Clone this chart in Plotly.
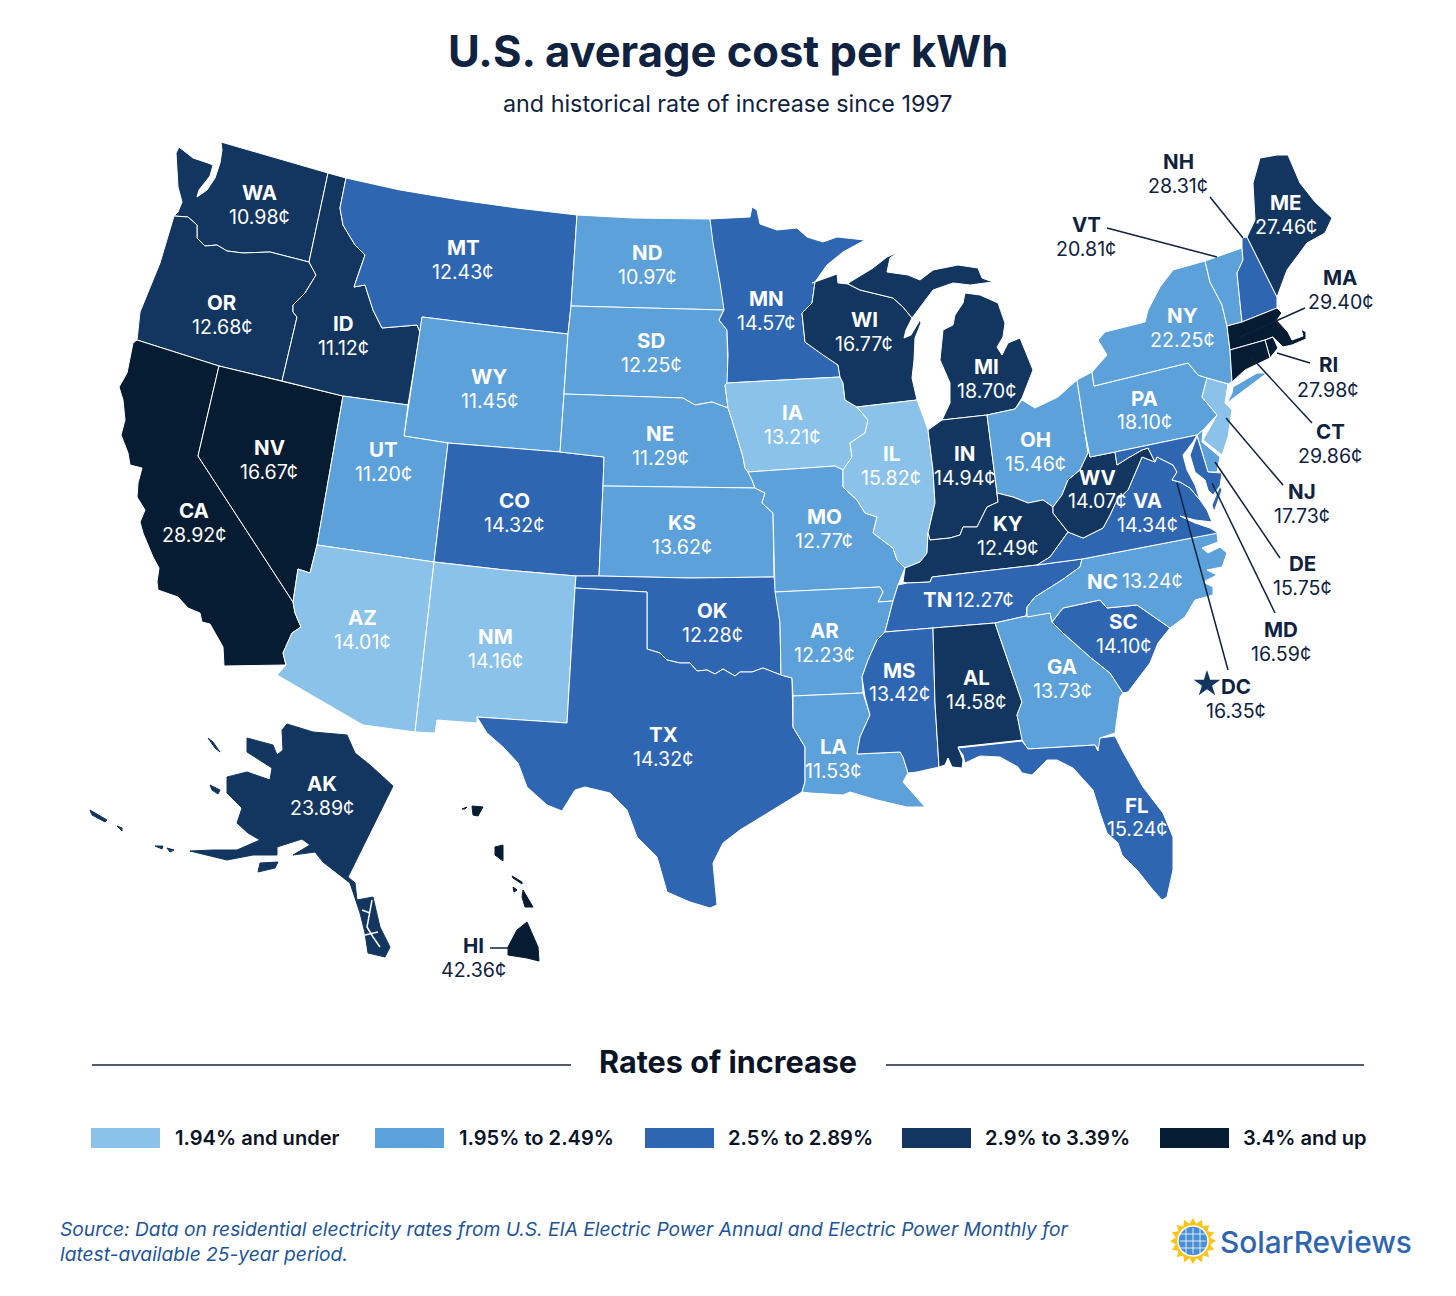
import math

import plotly.graph_objects as go

# residential price per kWh (cents) and rate-of-increase bin for each state
states = ["WA", "OR", "CA", "NV", "ID", "MT", "WY", "UT", "AZ", "CO", "NM", "ND", "SD", "NE", "KS", "OK", "TX",
          "MN", "IA", "MO", "AR", "LA", "WI", "IL", "MI", "IN", "OH", "KY", "TN", "MS", "AL", "GA", "FL", "SC",
          "NC", "VA", "WV", "PA", "NY", "VT", "NH", "ME", "MA", "RI", "CT", "NJ", "DE", "MD", "AK", "HI"]
prices = ["10.98", "12.68", "28.92", "16.67", "11.12", "12.43", "11.45", "11.20", "14.01", "14.32", "14.16", "10.97",
          "12.25", "11.29", "13.62", "12.28", "14.32", "14.57", "13.21", "12.77", "12.23", "11.53", "16.77", "15.82",
          "18.70", "14.94", "15.46", "12.49", "12.27", "13.42", "14.58", "13.73", "15.24", "14.10", "13.24", "14.34",
          "14.07", "18.10", "22.25", "20.81", "28.31", "27.46", "29.40", "27.98", "29.86", "17.73", "15.75", "16.59",
          "23.89", "42.36"]
rate_bins = [3, 3, 4, 4, 3, 2, 1, 1, 0, 2, 0, 1, 1, 1, 1, 2, 2,
             2, 0, 1, 1, 1, 3, 0, 3, 3, 1, 3, 2, 2, 3, 1, 2, 2,
             1, 2, 3, 1, 1, 1, 2, 3, 4, 4, 4, 0, 1, 2, 3, 4]
dc_price = "16.35"

bin_labels = ["1.94% and under", "1.95% to 2.49%", "2.5% to 2.89%", "2.9% to 3.39%", "3.4% and up"]
bin_colors = ["#8bc2ea", "#5da1da", "#2e66b1", "#12365f", "#061c33"]

NAVY = "#0f2240"

# no geo basemap without network (topojson comes from the CDN), so outlines are
# traced by hand off the picture, in page pixels
outlines = {
    "WA": [[(221, 142), (270, 156), (328, 173), (309, 262), (270, 252), (243, 253), (227, 251), (217, 245), (205, 246),
            (197, 238), (197, 225), (188, 217), (174, 216), (178, 212), (182, 202), (178, 187), (176, 153), (179, 147),
            (193, 158), (208, 163), (213, 165), (210, 176), (199, 190), (197, 197), (207, 190), (215, 178), (220, 163),
            (222, 150)]],
    "OR": [[(174, 216), (188, 217), (197, 225), (197, 238), (205, 246), (217, 245), (227, 251), (243, 253), (270, 252),
            (309, 262), (316, 275), (305, 293), (293, 305), (293, 312), (297, 317), (282, 381), (219, 366), (137, 340),
            (140, 312), (150, 287), (160, 263)]],
    "CA": [[(137, 340), (219, 366), (198, 456), (293, 602), (295, 613), (301, 627), (292, 633), (283, 653), (286, 665),
            (224, 666), (223, 647), (210, 624), (202, 622), (200, 613), (188, 608), (178, 597), (158, 590), (157, 582),
            (159, 568), (153, 557), (143, 533), (140, 522), (145, 510), (137, 497), (138, 483), (142, 468), (130, 465),
            (128, 453), (121, 435), (125, 420), (123, 400), (119, 387), (127, 373), (133, 343)]],
    "NV": [[(219, 366), (282, 381), (343, 396), (317, 545), (310, 573), (298, 569), (295, 587), (293, 602), (198, 456)]],
    "ID": [[(328, 173), (346, 178), (340, 208), (343, 225), (355, 245), (365, 255), (358, 275), (354, 287), (365, 285),
            (373, 310), (382, 328), (393, 327), (417, 325), (420, 332), (408, 405), (343, 396), (282, 381), (297, 317),
            (293, 312), (293, 305), (305, 293), (316, 275), (309, 262)]],
    "MT": [[(346, 178), (400, 190), (460, 200), (517, 208), (577, 215), (571, 306), (568, 334), (495, 326), (422, 317),
            (420, 332), (417, 325), (393, 327), (382, 328), (373, 310), (365, 285), (354, 287), (358, 275), (365, 255),
            (355, 245), (343, 225), (340, 208)]],
    "WY": [[(422, 317), (495, 326), (568, 334), (564, 394), (560, 452), (448, 443), (404, 436)]],
    "UT": [[(343, 396), (408, 405), (404, 436), (448, 443), (434, 562), (317, 545)]],
    "AZ": [[(317, 545), (434, 562), (415, 732), (363, 725), (277, 675), (286, 665), (283, 653), (292, 633), (301, 627),
            (295, 613), (293, 602), (295, 587), (298, 569), (310, 573)]],
    "CO": [[(448, 443), (560, 452), (604, 457), (603, 486), (599, 576), (576, 576), (505, 570), (434, 562)]],
    "NM": [[(434, 562), (505, 570), (576, 576), (575, 588), (567, 723), (477, 717), (477, 723), (437, 720), (435, 733),
            (415, 732)]],
    "ND": [[(577, 215), (633, 218), (710, 219), (712, 230), (717, 260), (723, 297), (724, 310), (645, 308), (571, 306)]],
    "SD": [[(571, 306), (645, 308), (724, 310), (719, 320), (727, 330), (728, 383), (725, 385), (728, 408), (712, 402),
            (695, 405), (683, 398), (620, 396), (564, 394), (568, 334)]],
    "NE": [[(564, 394), (620, 396), (683, 398), (695, 405), (712, 402), (728, 408), (732, 420), (743, 457), (745, 468),
            (748, 472), (752, 480), (755, 488), (680, 487), (603, 486), (604, 457), (560, 452)]],
    "KS": [[(603, 486), (680, 487), (755, 488), (765, 493), (762, 503), (773, 513), (774, 577), (690, 578), (599, 576)]],
    "OK": [[(576, 576), (599, 576), (690, 578), (774, 577), (780, 623), (781, 675), (773, 672), (763, 668), (752, 672),
            (740, 672), (735, 676), (723, 669), (715, 674), (707, 670), (697, 671), (690, 663), (680, 663), (667, 660),
            (660, 653), (647, 649), (647, 592), (575, 588)]],
    "TX": [[(575, 588), (647, 592), (647, 649), (660, 653), (667, 660), (680, 663), (690, 663), (697, 671), (707, 670),
            (715, 674), (723, 669), (735, 676), (740, 672), (752, 672), (763, 668), (773, 672), (781, 675), (792, 678),
            (793, 727), (805, 747), (805, 782), (802, 792), (773, 810), (740, 830), (723, 843), (713, 863), (717, 905),
            (710, 908), (690, 902), (667, 892), (657, 857), (637, 837), (627, 810), (610, 793), (585, 787), (575, 790),
            (562, 811), (547, 805), (527, 787), (518, 763), (503, 747), (487, 733), (477, 717), (567, 723)]],
    "MN": [[(710, 219), (750, 217), (752, 207), (757, 210), (760, 224), (777, 230), (797, 228), (807, 237), (823, 242),
            (837, 237), (865, 240), (843, 252), (827, 265), (815, 282), (812, 303), (802, 313), (805, 342), (823, 355),
            (838, 365), (840, 377), (727, 383), (728, 355), (727, 330), (719, 320), (724, 310), (720, 283), (713, 243)]],
    "IA": [[(727, 383), (840, 377), (843, 383), (845, 400), (857, 407), (868, 420), (865, 433), (850, 443), (852, 457),
            (843, 470), (835, 466), (748, 472), (745, 468), (743, 457), (732, 420), (728, 408), (725, 385)]],
    "MO": [[(752, 480), (748, 472), (835, 466), (843, 470), (843, 487), (857, 500), (865, 513), (877, 517), (873, 533),
            (893, 548), (897, 560), (905, 568), (898, 585), (893, 601), (878, 602), (883, 592), (880, 587), (775, 592),
            (773, 513), (762, 503), (765, 493), (755, 488)]],
    "AR": [[(775, 592), (880, 587), (883, 592), (878, 602), (893, 601), (885, 632), (877, 640), (868, 660), (862, 677),
            (863, 693), (793, 696), (792, 678), (781, 675), (780, 623)]],
    "LA": [[(793, 696), (863, 693), (870, 715), (860, 737), (857, 754), (900, 752), (903, 757), (908, 773), (903, 782),
            (925, 807), (907, 807), (877, 800), (850, 792), (843, 795), (810, 793), (802, 792), (805, 782), (805, 747),
            (793, 727)]],
    "WI": [[(812, 283), (837, 274), (838, 283), (848, 284), (860, 290), (893, 298), (903, 307), (912, 318), (906, 330),
            (904, 338), (911, 335), (920, 320), (921, 323), (915, 338), (914, 360), (912, 378), (917, 400), (857, 407),
            (845, 400), (843, 383), (840, 377), (838, 365), (823, 355), (805, 342), (802, 313), (812, 303), (815, 282)]],
    "IL": [[(857, 407), (917, 400), (922, 413), (928, 430), (933, 470), (935, 503), (928, 533), (927, 553), (920, 562),
            (905, 568), (897, 560), (893, 548), (873, 533), (877, 517), (865, 513), (857, 500), (843, 487), (843, 470),
            (852, 457), (850, 443), (865, 433), (868, 420)]],
    "MI": [[(848, 284), (860, 290), (893, 298), (903, 307), (912, 318), (920, 307), (927, 298), (933, 290), (953, 283),
            (970, 285), (993, 282), (982, 278), (978, 268), (958, 265), (933, 270), (920, 280), (908, 275), (887, 272),
            (890, 258), (898, 252), (887, 257), (873, 268), (850, 282)],
           [(965, 293), (980, 295), (998, 303), (1005, 323), (1003, 337), (997, 347), (1002, 355), (1008, 343), (1020, 338),
            (1028, 357), (1033, 370), (1022, 398), (1015, 409), (987, 415), (942, 420), (950, 403), (950, 383), (940, 360),
            (943, 330), (953, 325), (955, 315), (963, 303)]],
    "IN": [[(942, 420), (987, 415), (995, 477), (997, 493), (998, 502), (987, 507), (977, 527), (963, 527), (960, 535),
            (950, 538), (930, 540), (928, 533), (935, 503), (933, 470), (928, 430)]],
    "OH": [[(987, 415), (1015, 409), (1022, 400), (1035, 408), (1058, 397), (1077, 380), (1085, 432), (1088, 453),
            (1080, 470), (1068, 480), (1062, 495), (1053, 507), (1043, 500), (1028, 503), (1013, 497), (997, 493),
            (995, 477)]],
    "KY": [[(905, 568), (920, 562), (927, 553), (928, 533), (930, 540), (950, 538), (960, 535), (963, 527), (977, 527),
            (987, 507), (998, 502), (997, 493), (1013, 497), (1028, 503), (1043, 500), (1053, 507), (1053, 513), (1068, 532),
            (1050, 557), (1037, 565), (932, 577), (930, 582), (907, 583), (903, 582)]],
    "TN": [[(898, 585), (907, 583), (930, 582), (932, 577), (1037, 565), (1082, 559), (1080, 567), (1062, 580), (1035, 597),
            (1027, 607), (1026, 616), (995, 623), (933, 628), (885, 632), (893, 601)]],
    "MS": [[(885, 632), (933, 628), (935, 703), (939, 767), (917, 772), (908, 773), (903, 757), (900, 752), (857, 754),
            (860, 737), (870, 715), (865, 697), (862, 677), (868, 660), (877, 640)]],
    "AL": [[(933, 628), (995, 623), (1022, 702), (1017, 715), (1023, 740), (958, 747), (963, 760), (962, 768), (952, 767),
            (948, 758), (945, 765), (939, 767), (935, 703)]],
    "GA": [[(995, 623), (1026, 616), (1050, 613), (1052, 622), (1063, 633), (1090, 657), (1110, 673), (1123, 693), (1120, 697),
            (1115, 733), (1100, 738), (1100, 751), (1095, 745), (1028, 749), (1022, 740), (1017, 715), (1022, 702)]],
    "FL": [[(958, 748), (1022, 741), (1028, 749), (1095, 745), (1098, 751), (1100, 738), (1115, 736), (1123, 752), (1143, 787),
            (1163, 813), (1173, 837), (1173, 870), (1167, 897), (1162, 900), (1153, 890), (1137, 870), (1122, 855), (1118, 843),
            (1107, 833), (1100, 813), (1093, 790), (1073, 768), (1057, 760), (1047, 760), (1032, 775), (1022, 773), (1018, 767),
            (1000, 757), (980, 756), (965, 763), (963, 755)]],
    "SC": [[(1052, 622), (1063, 608), (1100, 600), (1107, 608), (1137, 605), (1170, 628), (1158, 643), (1150, 663), (1128, 692),
            (1123, 693), (1110, 673), (1090, 657), (1063, 633)]],
    "NC": [[(1027, 617), (1027, 607), (1035, 597), (1062, 580), (1080, 567), (1082, 559), (1150, 546), (1217, 533), (1218, 542),
            (1202, 548), (1208, 553), (1220, 547), (1227, 553), (1222, 567), (1207, 570), (1217, 575), (1203, 582), (1213, 587),
            (1213, 595), (1195, 600), (1185, 617), (1170, 628), (1137, 605), (1107, 608), (1100, 600), (1063, 608), (1052, 622),
            (1050, 613)]],
    "VA": [[(1037, 565), (1050, 557), (1068, 532), (1083, 538), (1103, 528), (1110, 515), (1117, 500), (1128, 490), (1142, 457),
            (1155, 462), (1157, 457), (1173, 465), (1177, 472), (1172, 480), (1180, 482), (1190, 488), (1200, 500), (1207, 510),
            (1212, 522), (1195, 520), (1180, 516), (1195, 523), (1210, 528), (1218, 533), (1150, 546), (1082, 559)],
           [(1220, 486), (1222, 490), (1214, 512), (1212, 505)]],
    "WV": [[(1085, 432), (1090, 457), (1115, 452), (1117, 465), (1128, 458), (1142, 450), (1148, 448), (1155, 462), (1142, 457),
            (1128, 490), (1117, 500), (1110, 515), (1103, 528), (1083, 538), (1068, 532), (1053, 513), (1053, 507), (1062, 495),
            (1068, 480), (1080, 470), (1088, 453)]],
    "PA": [[(1077, 380), (1092, 372), (1094, 386), (1188, 363), (1198, 375), (1207, 378), (1202, 397), (1217, 415), (1203, 430),
            (1197, 435), (1115, 452), (1090, 457), (1085, 432)]],
    "NY": [[(1105, 332), (1145, 322), (1148, 310), (1160, 287), (1173, 270), (1205, 261), (1210, 282), (1222, 305), (1227, 326),
            (1230, 350), (1232, 382), (1228, 384), (1207, 378), (1198, 375), (1188, 363), (1094, 386), (1092, 372), (1107, 355),
            (1098, 340)],
           [(1232, 393), (1227, 403), (1267, 373), (1257, 373), (1233, 387)]],
    "VT": [[(1205, 261), (1242, 248), (1243, 260), (1237, 273), (1242, 322), (1227, 326), (1222, 305), (1210, 282)]],
    "NH": [[(1242, 238), (1247, 237), (1277, 297), (1277, 308), (1242, 322), (1237, 273), (1243, 260), (1242, 248)]],
    "ME": [[(1247, 237), (1255, 220), (1253, 183), (1260, 158), (1277, 155), (1288, 155), (1300, 183), (1315, 202), (1332, 218),
            (1325, 233), (1307, 243), (1287, 270), (1277, 297)]],
    "MA": [[(1227, 326), (1242, 322), (1277, 308), (1282, 313), (1277, 320), (1288, 332), (1292, 340), (1303, 336), (1301, 329),
            (1306, 332), (1306, 339), (1292, 345), (1283, 347), (1273, 337), (1265, 340), (1230, 350)]],
    "RI": [[(1265, 340), (1273, 337), (1278, 348), (1270, 358)]],
    "CT": [[(1230, 350), (1265, 340), (1270, 358), (1245, 370), (1232, 382)]],
    "NJ": [[(1207, 378), (1228, 384), (1225, 403), (1232, 410), (1228, 437), (1222, 455), (1203, 440), (1217, 415), (1202, 397)]],
    "DE": [[(1197, 435), (1203, 430), (1202, 442), (1220, 457), (1217, 472), (1208, 472)]],
    "MD": [[(1115, 452), (1197, 435), (1193, 442), (1183, 455), (1187, 470), (1195, 485), (1200, 500), (1190, 488), (1180, 482),
            (1172, 480), (1177, 472), (1173, 465), (1157, 457), (1155, 462), (1148, 448), (1142, 450), (1128, 458), (1117, 465)],
           [(1197, 436), (1208, 472), (1222, 473), (1220, 486), (1213, 495), (1208, 490), (1205, 480), (1195, 472), (1190, 455)]],
    "AK": [[(287, 724), (313, 732), (347, 735), (355, 753), (370, 765), (393, 786), (348, 877), (355, 883), (357, 900), (373, 897),
            (380, 927), (390, 947), (385, 957), (368, 953), (365, 933), (360, 913), (350, 883), (323, 862), (315, 852), (293, 855),
            (310, 845), (302, 839), (277, 847), (277, 855), (253, 855), (227, 860), (190, 851), (213, 850), (237, 850), (260, 840),
            (248, 833), (237, 823), (242, 808), (227, 793), (227, 777), (247, 772), (270, 780), (272, 768), (247, 752), (247, 738),
            (273, 745), (277, 755), (283, 750), (282, 730)],
           [(208, 738), (213, 742), (220, 752), (215, 748)], [(210, 785), (220, 790), (218, 794), (212, 790)],
           [(260, 863), (278, 862), (275, 868), (258, 872)], [(90, 810), (107, 820), (105, 822), (92, 815)],
           [(117, 826), (122, 828), (122, 831)], [(155, 846), (163, 846), (162, 849)], [(167, 848), (174, 850), (170, 852)]],
    "HI": [[(527, 922), (538, 947), (539, 961), (527, 958), (508, 955), (508, 947), (517, 930)],
           [(523, 890), (533, 907), (525, 907), (522, 897)], [(512, 876), (522, 882), (522, 884), (513, 878)],
           [(513, 887), (517, 890), (514, 892)], [(495, 847), (503, 845), (503, 861), (495, 855)],
           [(472, 806), (483, 807), (478, 816), (473, 815)], [(462, 809), (467, 807), (465, 809)]],
}
ak_channels = [[(372, 900), (367, 927), (373, 937), (380, 947)], [(362, 910), (370, 913)], [(365, 935), (378, 932)]]
# islands only, no neighbours, so no white edge around them
no_border = ["AK", "HI"]

# code x, code y, price x, price y
label_pos = {
    "WA": (259, 192, 259, 217), "OR": (222, 302, 222, 327), "CA": (194, 510, 194, 535), "NV": (269, 447, 269, 472),
    "ID": (343, 323, 343, 348), "MT": (463, 247, 463, 272), "WY": (489, 376, 489, 401), "UT": (383, 449, 383, 474),
    "AZ": (362, 617, 362, 642), "CO": (514, 500, 514, 525), "NM": (495, 636, 495, 661), "ND": (647, 252, 647, 277),
    "SD": (651, 340, 651, 365), "NE": (660, 433, 660, 458), "KS": (682, 522, 682, 547), "OK": (712, 610, 712, 635),
    "TX": (663, 734, 663, 759), "MN": (766, 298, 766, 323), "IA": (792, 412, 792, 437), "MO": (824, 516, 824, 541),
    "AR": (824, 630, 824, 655), "LA": (833, 746, 833, 771), "WI": (864, 319, 864, 344), "IL": (891, 453, 891, 478),
    "MI": (986, 366, 986, 391), "IN": (964, 453, 964, 478), "OH": (1035, 439, 1035, 464), "KY": (1008, 523, 1008, 548),
    "TN": (937, 599, 984, 600), "MS": (899, 670, 899, 694), "AL": (976, 677, 976, 702), "GA": (1062, 666, 1062, 691),
    "FL": (1137, 805, 1137, 829), "SC": (1123, 621, 1123, 646), "NC": (1102, 581, 1152, 581), "VA": (1147, 500, 1147, 525),
    "WV": (1097, 477, 1097, 501), "PA": (1144, 398, 1144, 422), "NY": (1182, 315, 1182, 340), "ME": (1286, 202, 1286, 227),
    "AK": (322, 783, 322, 808), "NH": (1178, 161, 1178, 186), "VT": (1086, 224, 1086, 249), "MA": (1340, 277, 1340, 302),
    "RI": (1328, 364, 1328, 390), "CT": (1330, 431, 1330, 456), "NJ": (1302, 491, 1302, 516), "DE": (1302, 563, 1302, 588),
    "MD": (1281, 629, 1281, 654), "HI": (473, 945, 473, 970),
}
outside_labels = ["NH", "VT", "MA", "RI", "CT", "NJ", "DE", "MD", "HI"]

leaders = [[(1107, 228), (1217, 257)], [(1210, 197), (1243, 238)], [(1305, 308), (1240, 337)], [(1310, 363), (1277, 353)],
           [(1312, 423), (1252, 358)], [(1283, 485), (1226, 418)], [(1280, 558), (1215, 462)], [(1275, 613), (1212, 483)],
           [(1228, 670), (1177, 483)], [(490, 948), (508, 948)]]

legend_x = [91, 375, 645, 902, 1160]
legend_text_x = [173, 457, 726, 983, 1241]


def ring_xy(rings):
    xs, ys = [], []
    for ring in rings:
        xs += [p[0] for p in ring] + [ring[0][0], None]
        ys += [p[1] for p in ring] + [ring[0][1], None]
    return xs, ys


fig = go.Figure()

for state, b in zip(states, rate_bins):
    x, y = ring_xy(outlines[state])
    edge = bin_colors[b] if state in no_border else "white"
    fig.add_trace(go.Scatter(x=x, y=y, mode="lines", fill="toself", fillcolor=bin_colors[b], name=state,
                             line=dict(color=edge, width=1), hoverinfo="name"))

for seg in ak_channels:
    fig.add_trace(go.Scatter(x=[p[0] for p in seg], y=[p[1] for p in seg], mode="lines",
                             line=dict(color="white", width=1.5), hoverinfo="skip"))

for seg in leaders:
    fig.add_trace(go.Scatter(x=[p[0] for p in seg], y=[p[1] for p in seg], mode="lines",
                             line=dict(color=NAVY, width=1.5), hoverinfo="skip"))

# DC star
fig.add_trace(go.Scatter(x=[1207], y=[684], mode="markers", marker=dict(symbol="star", size=20, color=bin_colors[3]),
                         name="DC", hoverinfo="name"))


def add_text(x, y, text, size, color=NAVY, weight=400, anchor="center", style="normal", family="Inter"):
    fig.add_annotation(x=x, y=y, text=text, showarrow=False, xanchor=anchor, yanchor="middle",
                       font=dict(family=family, size=size, color=color, weight=weight, style=style))


for state, price in zip(states, prices):
    code_x, code_y, price_x, price_y = label_pos[state]
    color = NAVY if state in outside_labels else "white"
    add_text(code_x, code_y, state, 20.5, color, 700)
    add_text(price_x, price_y, price + "¢", 19.6, color)
add_text(1236, 686, "DC", 20.5, NAVY, 700)
add_text(1236, 711, dc_price + "¢", 19.6)

add_text(728, 51, "U.S. average cost per kWh", 43.5, NAVY, 700)
add_text(728, 103, "and historical rate of increase since 1997", 23.3)
add_text(728, 1061, "Rates of increase", 30.6, "#0b1426", 700)

shapes = [
    dict(type="line", x0=92, x1=571, y0=1065, y1=1065, line=dict(color="#14233f", width=1.5)),
    dict(type="line", x0=886, x1=1364, y0=1065, y1=1065, line=dict(color="#14233f", width=1.5)),
]
for lx, tx, label, color in zip(legend_x, legend_text_x, bin_labels, bin_colors):
    shapes.append(dict(type="rect", x0=lx, x1=lx + 69, y0=1128, y1=1148, fillcolor=color, line_width=0))
    add_text(tx, 1138, label, 20.1, "#0b1426", 600, anchor="left")

add_text(58, 1229, "Source: Data on residential electricity rates from U.S. EIA Electric Power Annual and Electric Power Monthly for",
         19.2, "#1d5598", 400, anchor="left", style="italic")
add_text(58, 1254, "latest-available 25-year period.", 19.2, "#1d5598", 400, anchor="left", style="italic")

# logo: sun with a solar panel in it
sun_x, sun_y = [], []
for i in range(32):
    r = 23 if i % 2 == 0 else 17.5
    sun_x.append(1193 + r * math.cos(i * math.pi / 16))
    sun_y.append(1241 + r * math.sin(i * math.pi / 16))
fig.add_trace(go.Scatter(x=sun_x, y=sun_y, mode="lines", fill="toself", fillcolor="#fcc419", line=dict(width=0), hoverinfo="skip"))
shapes.append(dict(type="circle", x0=1178, x1=1208, y0=1226, y1=1256, fillcolor="#4a8fd3", line=dict(color="white", width=1.5)))
for off in (-7, 0, 7):
    shapes.append(dict(type="line", x0=1193 + off, x1=1193 + off, y0=1228, y1=1254, line=dict(color="white", width=0.8)))
    shapes.append(dict(type="line", x0=1180, x1=1206, y0=1241 + off, y1=1241 + off, line=dict(color="white", width=0.8)))
add_text(1218, 1242, "SolarReviews", 29.8, "#2e66b1", 500, anchor="left")

# page body has an 8px margin, so the plot starts 8px in; ranges keep page-pixel coordinates
fig.update_layout(
    width=1448,
    height=1288,
    margin=dict(l=0, r=0, t=0, b=0),
    paper_bgcolor="white",
    plot_bgcolor="white",
    showlegend=False,
    shapes=shapes,
    xaxis=dict(range=[8, 1456], visible=False, fixedrange=True),
    yaxis=dict(range=[1296, 8], visible=False, fixedrange=True),
)
fig.write_html("out.html")
